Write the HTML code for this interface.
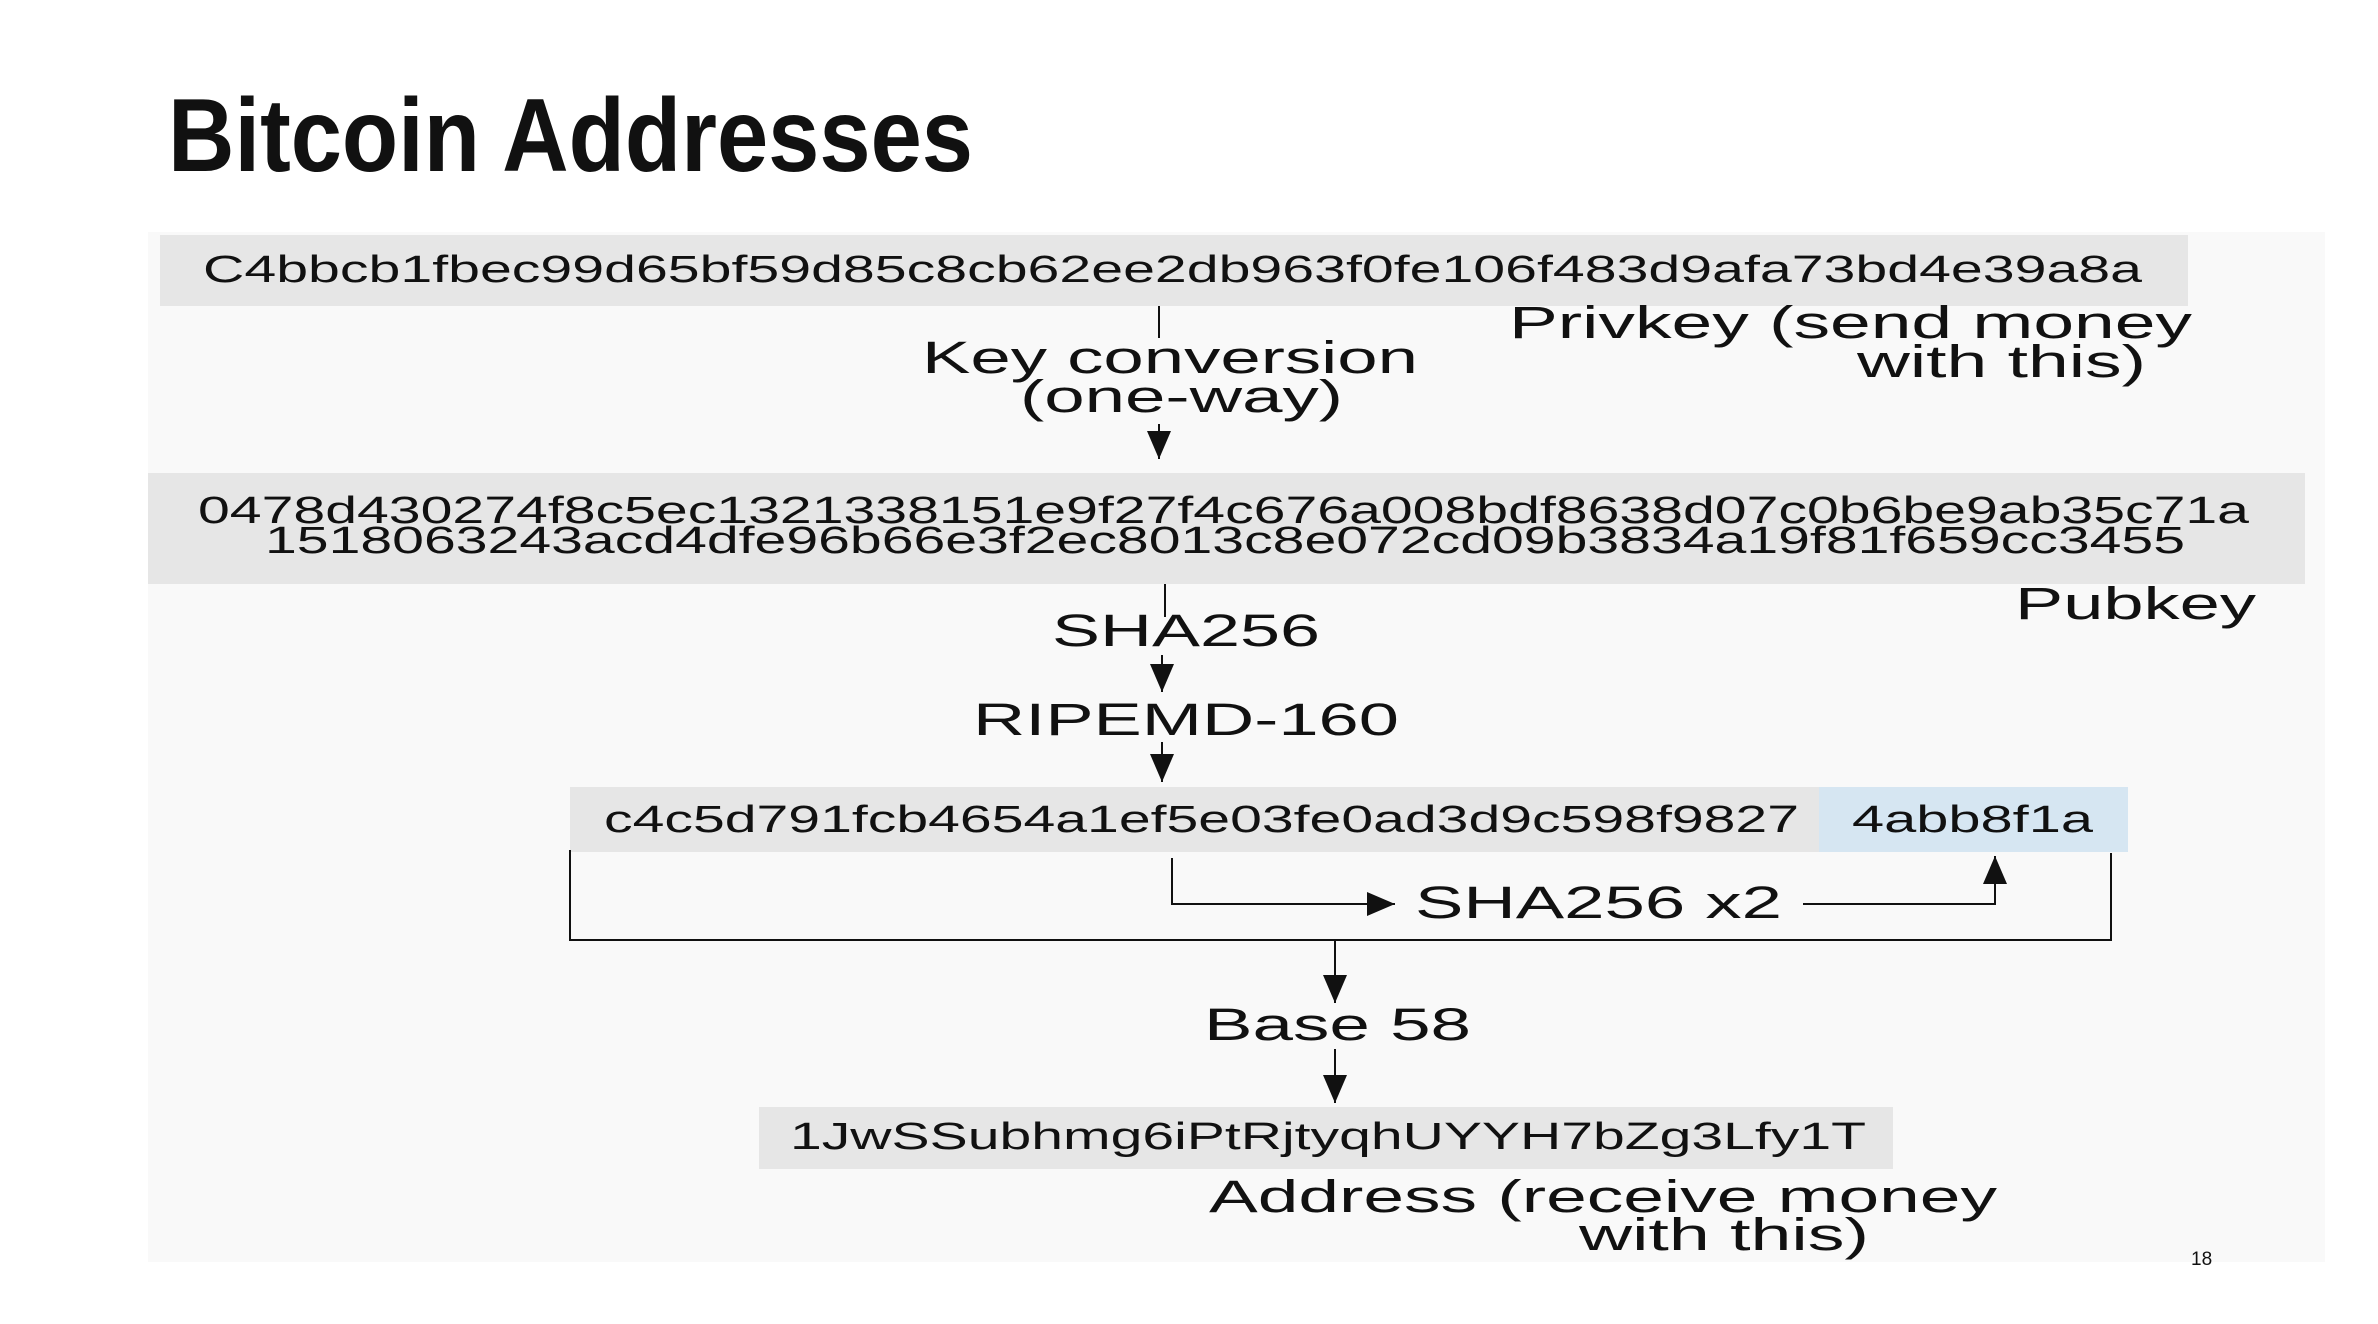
<!DOCTYPE html>
<html><head><meta charset="utf-8"><style>
html,body{margin:0;padding:0;background:#fff;}
svg{display:block;}
text{font-family:"Liberation Sans",sans-serif;fill:#111;}
</style></head><body>
<svg width="2378" height="1324" viewBox="0 0 2378 1324" xmlns="http://www.w3.org/2000/svg">
<defs>
<marker id="ah" markerWidth="30" markerHeight="30" refX="28" refY="12" orient="auto" markerUnits="userSpaceOnUse">
<path d="M0,0 L28,12 L0,24 Z" fill="#111"/>
</marker>
</defs>
<rect x="0" y="0" width="2378" height="1324" fill="#fff"/>
<text x="168" y="171" font-size="104" font-weight="bold" textLength="805" lengthAdjust="spacingAndGlyphs" style="font-family:'Liberation Sans Narrow','Liberation Sans',sans-serif">Bitcoin Addresses</text>
<rect x="148" y="232" width="2177" height="1030" fill="#f9f9f9"/>

<rect x="160" y="235" width="2028" height="71" fill="#e6e6e6"/>
<text x="203" y="282" font-size="38" textLength="1939" lengthAdjust="spacingAndGlyphs">C4bbcb1fbec99d65bf59d85c8cb62ee2db963f0fe106f483d9afa73bd4e39a8a</text>
<line x1="1159" y1="306" x2="1159" y2="338" stroke="#111" stroke-width="2"/>
<text x="922" y="373" font-size="45" textLength="496" lengthAdjust="spacingAndGlyphs">Key conversion</text>
<text x="1020" y="412" font-size="45" textLength="323" lengthAdjust="spacingAndGlyphs">(one-way)</text>
<line x1="1159" y1="424" x2="1159" y2="459" stroke="#111" stroke-width="2" marker-end="url(#ah)"/>
<text x="1509" y="338" font-size="45" textLength="683" lengthAdjust="spacingAndGlyphs">Privkey (send money</text>
<text x="1857" y="377" font-size="45" textLength="289" lengthAdjust="spacingAndGlyphs">with this)</text>

<rect x="148" y="473" width="2157" height="111" fill="#e6e6e6"/>
<text x="198" y="523" font-size="38" textLength="2051" lengthAdjust="spacingAndGlyphs">0478d430274f8c5ec1321338151e9f27f4c676a008bdf8638d07c0b6be9ab35c71a</text>
<text x="265" y="553" font-size="38" textLength="1920" lengthAdjust="spacingAndGlyphs">1518063243acd4dfe96b66e3f2ec8013c8e072cd09b3834a19f81f659cc3455</text>
<line x1="1165" y1="584" x2="1165" y2="617" stroke="#111" stroke-width="2"/>
<text x="1052" y="646" font-size="45" textLength="268" lengthAdjust="spacingAndGlyphs">SHA256</text>
<line x1="1162" y1="655" x2="1162" y2="692" stroke="#111" stroke-width="2" marker-end="url(#ah)"/>
<text x="2015" y="619" font-size="45" textLength="241" lengthAdjust="spacingAndGlyphs">Pubkey</text>
<text x="973" y="735" font-size="45" textLength="426" lengthAdjust="spacingAndGlyphs">RIPEMD-160</text>
<line x1="1162" y1="742" x2="1162" y2="782" stroke="#111" stroke-width="2" marker-end="url(#ah)"/>

<rect x="570" y="787" width="1250" height="65" fill="#e6e6e6"/>
<rect x="1819" y="787" width="309" height="65" fill="#d6e6f2"/>
<text x="604" y="832" font-size="38" textLength="1195" lengthAdjust="spacingAndGlyphs">c4c5d791fcb4654a1ef5e03fe0ad3d9c598f9827</text>
<text x="1852" y="832" font-size="38" textLength="241" lengthAdjust="spacingAndGlyphs">4abb8f1a</text>
<polyline points="570,850 570,940 2111,940 2111,853" fill="none" stroke="#111" stroke-width="2"/>
<polyline points="1172,858 1172,904 1395,904" fill="none" stroke="#111" stroke-width="2" marker-end="url(#ah)"/>
<text x="1415" y="918" font-size="45" textLength="367" lengthAdjust="spacingAndGlyphs">SHA256 x2</text>
<polyline points="1803,904 1995,904 1995,856" fill="none" stroke="#111" stroke-width="2" marker-end="url(#ah)"/>
<line x1="1335" y1="940" x2="1335" y2="1003" stroke="#111" stroke-width="2" marker-end="url(#ah)"/>
<text x="1204" y="1040" font-size="45" textLength="267" lengthAdjust="spacingAndGlyphs">Base 58</text>
<line x1="1335" y1="1049" x2="1335" y2="1103" stroke="#111" stroke-width="2" marker-end="url(#ah)"/>

<rect x="759" y="1107" width="1134" height="62" fill="#e6e6e6"/>
<text x="790" y="1149" font-size="38" textLength="1076" lengthAdjust="spacingAndGlyphs">1JwSSubhmg6iPtRjtyqhUYYH7bZg3Lfy1T</text>
<text x="1209" y="1212" font-size="45" textLength="788" lengthAdjust="spacingAndGlyphs">Address (receive money</text>
<text x="1579" y="1250" font-size="45" textLength="290" lengthAdjust="spacingAndGlyphs">with this)</text>
<text x="2191" y="1265" font-size="19">18</text>
</svg>
</body></html>
